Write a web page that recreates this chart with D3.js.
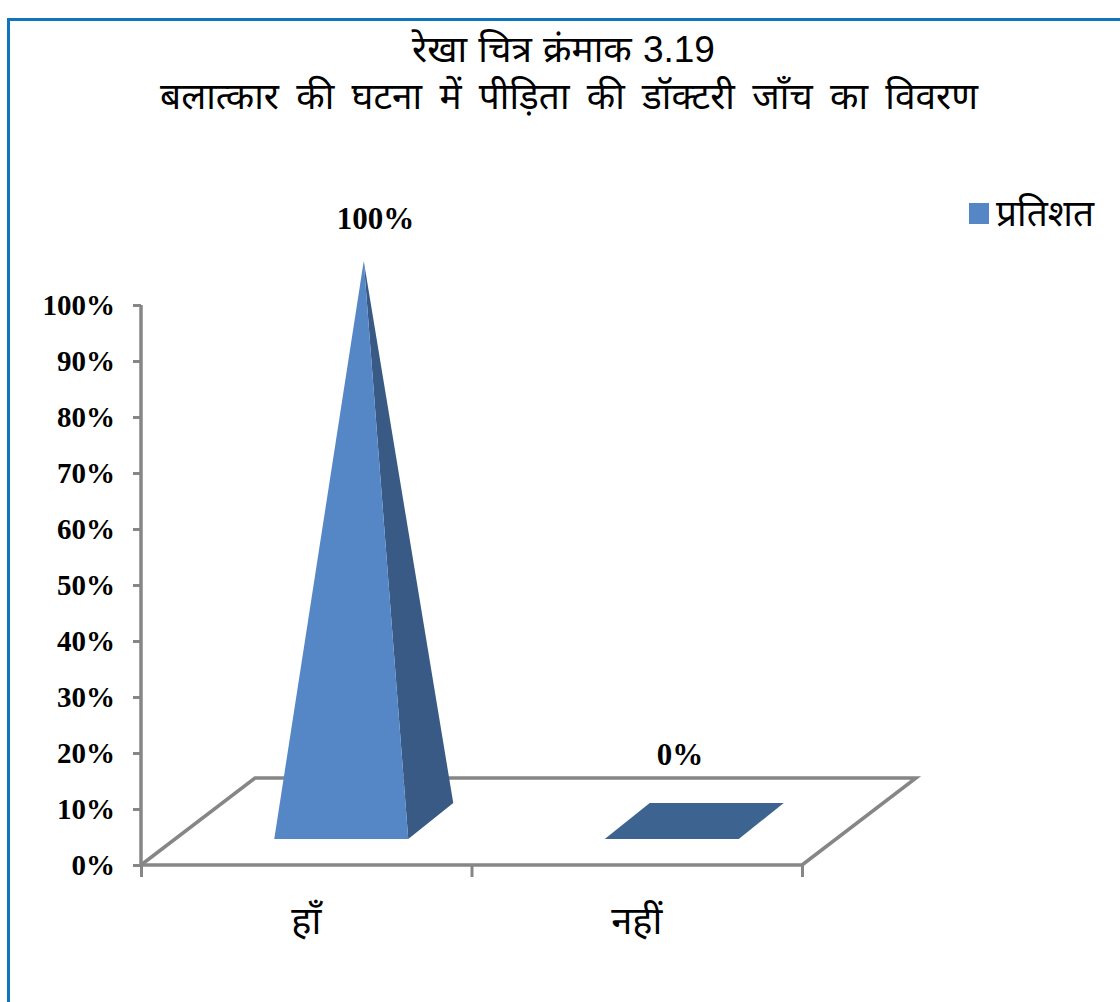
<!DOCTYPE html>
<html><head><meta charset="utf-8">
<style>html,body{margin:0;padding:0;background:#fff}svg{display:block}</style>
<script src="https://cdn.jsdelivr.net/npm/d3@7/dist/d3.min.js"></script>
</head><body><div id="c"></div>
<script>
const categories=["हाँ","नहीं"];
const values=[100,0];
const dataLabels=["100%","0%"];
const yTicks=[0,10,20,30,40,50,60,70,80,90,100];
const titleLines=["रेखा चित्र क्रंमाक 3.19","बलात्कार की घटना में पीड़िता की डॉक्टरी जाँच का विवरण"];
const legendLabel="प्रतिशत";

const W=1120,H=1002;
const svg=d3.select("#c").append("svg").attr("width",W).attr("height",H);
const hindi="'Liberation Sans','Noto Sans Devanagari','Noto Sans','Lohit Devanagari','Noto Serif Devanagari',sans-serif";
const serif="'Liberation Serif',serif";
const gray="#868686",front="#5587C6",side="#385A85",flat="#3D6491";

// frame
svg.append("path").attr("d",`M8.5,${H}V19.5H${W}`).attr("fill","none").attr("stroke","#0F75BE").attr("stroke-width",3);

const x=d3.scaleBand().domain(categories).range([141,802]);
const y=d3.scaleLinear().domain([0,100]).range([865,305]);
const depthX=114,depthY=87;

// floor
const g=svg.append("g");
g.append("path").attr("fill","none").attr("stroke",gray).attr("stroke-width",3.5)
 .attr("d",`M${x.range()[0]},${y(0)}L${x.range()[0]+depthX},${y(0)-depthY}H${x.range()[1]+depthX}L${x.range()[1]},${y(0)}`);

// axes
const yAxis=d3.axisLeft(y).tickValues(yTicks).tickFormat(d=>d+"%").tickSize(8).tickPadding(18);
const ya=g.append("g").attr("transform","translate(141,0)").call(yAxis);
const xAxis=d3.axisBottom(d3.scaleLinear().domain([0,2]).range(x.range())).tickValues([0,1,2]).tickFormat("").tickSize(12);
const xa=g.append("g").attr("transform",`translate(0,${y(0)})`).call(xAxis);
[ya,xa].forEach(a=>{a.selectAll("path,line").attr("stroke",gray).attr("stroke-width",3);});
ya.select(".domain").attr("d",`M0,${y(100)}V${y(0)}`).attr("stroke-width",3.5);
xa.select(".domain").attr("d",`M${x.range()[0]},0H${x.range()[1]}`).attr("stroke-width",3.5);
ya.selectAll("text").attr("font-family",serif).attr("font-weight","bold").attr("font-size",29).attr("fill","#000");

// category labels
g.selectAll(".cat").data(categories).join("text").attr("class","cat")
 .attr("x",d=>x(d)+x.bandwidth()/2).attr("y",934).attr("text-anchor","middle")
 .attr("font-family",hindi).attr("font-size",38).attr("fill","#000").text(d=>d);

// pyramids
const baseW=134, inset=[35,26], depth=[45,36];
const geo=categories.map((c,i)=>{
  const cx=x(c)+x.bandwidth()/2+inset[0], by=y(0)-inset[1];
  const l=cx-baseW/2,r=cx+baseW/2;
  const h=y(0)-y(values[i]);
  return {l,r,by,ax:cx+depth[0]/2,ay:by-depth[1]/2-h,h};
});
geo.forEach(p=>{
  if(p.h>0){
    g.append("path").attr("fill",side).attr("d",d3.line()([[p.r,p.by],[p.r+depth[0],p.by-depth[1]],[p.ax,p.ay]])+"Z");
    g.append("path").attr("fill",front).attr("d",d3.line()([[p.l,p.by],[p.r,p.by],[p.ax,p.ay]])+"Z");
  } else {
    g.append("path").attr("fill",flat).attr("d",d3.line()([[p.l,p.by],[p.r,p.by],[p.r+depth[0],p.by-depth[1]],[p.l+depth[0],p.by-depth[1]]])+"Z");
  }
});

// data labels
g.selectAll(".dl").data(dataLabels).join("text").attr("class","dl")
 .attr("x",(d,i)=>[375.5,680][i]).attr("y",(d,i)=>[229,765][i]).attr("text-anchor","middle")
 .attr("font-family",serif).attr("font-weight","bold").attr("font-size",31).attr("fill","#000").text(d=>d);

// title
svg.selectAll(".t").data(titleLines).join("text").attr("class","t")
 .attr("x",(d,i)=>[563.5,569][i]).attr("y",(d,i)=>[62,109][i]).attr("text-anchor","middle")
 .attr("font-family",hindi).attr("font-size",37).attr("word-spacing",(d,i)=>[1,7][i]).attr("fill","#000").text(d=>d);

// legend
svg.append("rect").attr("x",969).attr("y",203).attr("width",20).attr("height",21).attr("fill",front);
svg.append("text").attr("x",996).attr("y",226).attr("font-family",hindi).attr("font-size",37).attr("fill","#000").text(legendLabel);
</script></body></html>
